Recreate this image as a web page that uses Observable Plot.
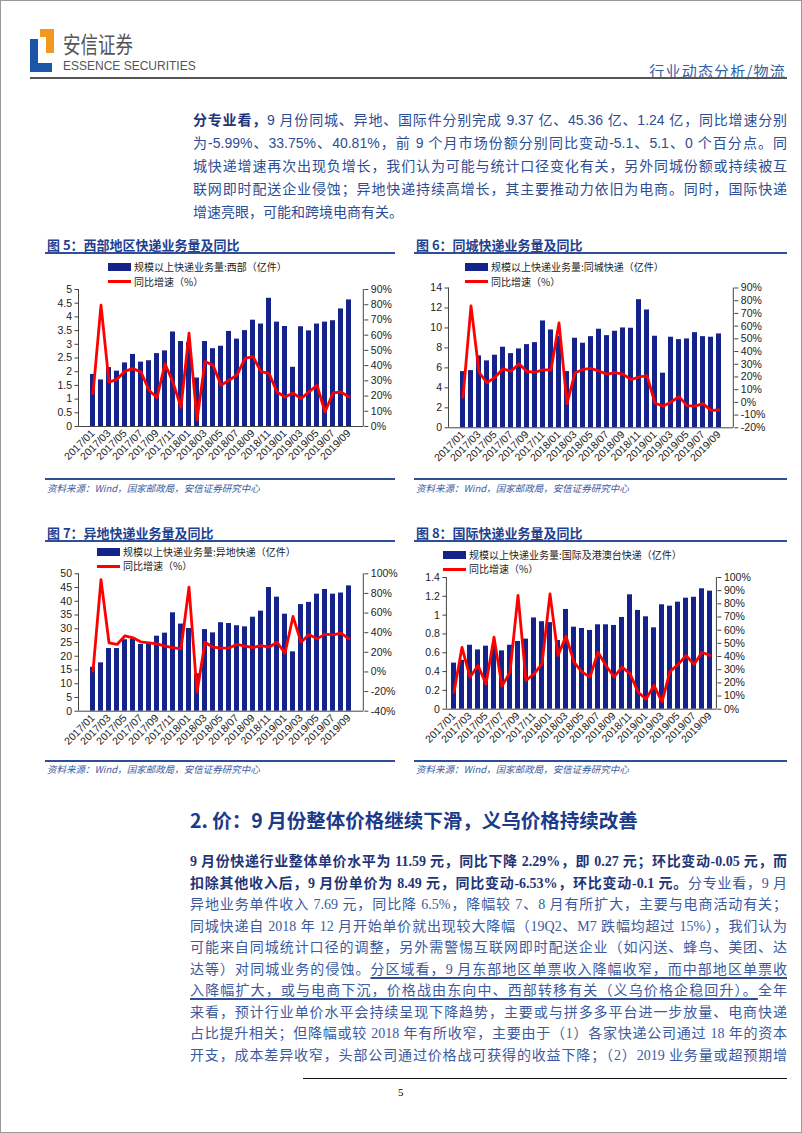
<!DOCTYPE html>
<html><head><meta charset="utf-8">
<script src="https://cdn.jsdelivr.net/npm/d3@7"></script>
<script src="https://cdn.jsdelivr.net/npm/@observablehq/plot@0.6"></script>
<style>
body{margin:0;background:#fff;}
#page{position:relative;width:802px;height:1133px;overflow:hidden;font-family:"Noto Sans CJK SC","Liberation Sans",sans-serif;box-shadow:inset 0 0 0 1px #9a9a9a;}
.a{position:absolute;white-space:nowrap;}
.p1{position:absolute;left:193px;width:594px;top:109px;font-size:14px;line-height:23px;color:#2d4d94;font-family:"Liberation Sans","Noto Sans CJK SC",sans-serif;}
.p1 div,.p2 div{text-align:justify;text-align-last:justify;white-space:nowrap;}
.p1 div.last,.p2 div.last{text-align-last:left;}
.p2{position:absolute;left:190px;width:597px;top:851px;font-size:14px;line-height:21.5px;color:#3b5aa0;font-family:"Liberation Serif","Noto Sans CJK SC",serif;}
b{color:#1f3577;}
.u{text-decoration:underline;text-decoration-color:#2d4f95;text-decoration-thickness:1.5px;text-underline-offset:3px;}
.ft{font-size:13px;font-weight:bold;color:#1f3f8f;}
.tl{height:2px;background:#2d4f95;}
.src{font-size:9.5px;font-style:italic;color:#3b5ba0;}
.sl{height:1.5px;background:#2d4f95;}
.lg{font-size:10px;line-height:normal;color:#222;}
.sw{background:#13238b;height:8px;width:23px;}
.rl{background:#ff0000;height:3px;width:23px;}
</style></head><body><div id="page">

<!-- header -->
<div class="a" style="left:30px;top:39px;width:8px;height:33px;background:#1b57a6"></div>
<div class="a" style="left:30px;top:63px;width:22px;height:9px;background:#1b57a6"></div>
<div class="a" style="left:40px;top:29px;width:14px;height:8px;background:#f39a1e"></div>
<div class="a" style="left:46px;top:29px;width:8px;height:24px;background:#f39a1e"></div>
<div class="a" style="left:63px;top:25.5px;font-size:23px;line-height:normal;color:#555;transform:scaleX(0.76);transform-origin:left top;">安信证券</div>
<div class="a" style="left:63px;top:59px;font-size:12px;line-height:normal;color:#555;font-family:'Liberation Sans',sans-serif;">ESSENCE SECURITIES</div>
<div class="a" style="right:16px;top:60px;font-size:15px;color:#3060a8;letter-spacing:1.2px;">行业动态分析/物流</div>
<div class="a" style="left:30px;top:77px;width:757px;height:2px;background:#555"></div>

<div class="p1">
<div><b>分专业看，</b>9 月份同城、异地、国际件分别完成 9.37 亿、45.36 亿、1.24 亿，同比增速分别</div>
<div>为-5.99%、33.75%、40.81%，前 9 个月市场份额分别同比变动-5.1、5.1、0 个百分点。同</div>
<div>城快递增速再次出现负增长，我们认为可能与统计口径变化有关，另外同城份额或持续被互</div>
<div>联网即时配送企业侵蚀；异地快递持续高增长，其主要推动力依旧为电商。同时，国际快递</div>
<div class="last">增速亮眼，可能和跨境电商有关。</div>
</div>

<!-- chart titles -->
<div class="a ft" style="left:47px;top:235px;">图 5：西部地区快递业务量及同比</div>
<div class="a tl" style="left:45px;top:252px;width:350px;"></div>
<div class="a ft" style="left:416px;top:235px;">图 6：同城快递业务量及同比</div>
<div class="a tl" style="left:414px;top:252px;width:373px;"></div>
<div class="a ft" style="left:47px;top:523px;">图 7：异地快递业务量及同比</div>
<div class="a tl" style="left:45px;top:540px;width:350px;"></div>
<div class="a ft" style="left:416px;top:523px;">图 8：国际快递业务量及同比</div>
<div class="a tl" style="left:414px;top:540px;width:373px;"></div>

<div id="c5" class="a" style="left:40px;top:258px;"></div>
<div id="c6" class="a" style="left:410px;top:258px;"></div>
<div id="c7" class="a" style="left:40px;top:545px;"></div>
<div id="c8" class="a" style="left:410px;top:545px;"></div>

<!-- legends -->
<div class="a sw" style="left:108px;top:263px;"></div>
<div class="a lg" style="left:134px;top:259.2px;">规模以上快递业务量:西部（亿件）</div>
<div class="a rl" style="left:108px;top:280px;"></div>
<div class="a lg" style="left:134px;top:273.8px;">同比增速（%）</div>

<div class="a sw" style="left:465px;top:263px;"></div>
<div class="a lg" style="left:491px;top:259.2px;">规模以上快递业务量:同城快递（亿件）</div>
<div class="a rl" style="left:465px;top:280px;"></div>
<div class="a lg" style="left:491px;top:273.8px;">同比增速（%）</div>

<div class="a sw" style="left:97px;top:547.5px;"></div>
<div class="a lg" style="left:123px;top:543.7px;">规模以上快递业务量:异地快递（亿件）</div>
<div class="a rl" style="left:97px;top:564.5px;"></div>
<div class="a lg" style="left:123px;top:558.3px;">同比增速（%）</div>

<div class="a sw" style="left:443px;top:550.5px;"></div>
<div class="a lg" style="left:469px;top:546.7px;">规模以上快递业务量:国际及港澳台快递（亿件）</div>
<div class="a rl" style="left:443px;top:567.5px;"></div>
<div class="a lg" style="left:469px;top:561.3px;">同比增速（%）</div>

<!-- sources -->
<div class="a sl" style="left:45px;top:478px;width:350px;"></div>
<div class="a src" style="left:47px;top:481px;">资料来源：Wind，国家邮政局，安信证券研究中心</div>
<div class="a sl" style="left:414px;top:478px;width:373px;"></div>
<div class="a src" style="left:416px;top:481px;">资料来源：Wind，国家邮政局，安信证券研究中心</div>
<div class="a sl" style="left:45px;top:760px;width:350px;"></div>
<div class="a src" style="left:47px;top:762px;">资料来源：Wind，国家邮政局，安信证券研究中心</div>
<div class="a sl" style="left:414px;top:760px;width:373px;"></div>
<div class="a src" style="left:416px;top:762px;">资料来源：Wind，国家邮政局，安信证券研究中心</div>

<div class="a" style="left:190px;top:805px;font-size:19.5px;font-weight:bold;color:#1b3a8a;">2. 价：9 月份整体价格继续下滑，义乌价格持续改善</div>

<div class="p2">
<div><b>9 月份快递行业整体单价水平为 11.59 元，同比下降 2.29%，即 0.27 元；环比变动-0.05 元，而</b></div>
<div><b>扣除其他收入后，9 月份单价为 8.49 元，同比变动-6.53%，环比变动-0.1 元。</b>分专业看，9 月</div>
<div>异地业务单件收入 7.69 元，同比降 6.5%，降幅较 7、8 月有所扩大，主要与电商活动有关；</div>
<div>同城快递自 2018 年 12 月开始单价就出现较大降幅（19Q2、M7 跌幅均超过 15%），我们认为</div>
<div>可能来自同城统计口径的调整，另外需警惕互联网即时配送企业（如闪送、蜂鸟、美团、达</div>
<div>达等）对同城业务的侵蚀。<span class="u">分区域看，9 月东部地区单票收入降幅收窄，而中部地区单票收</span></div>
<div><span class="u">入降幅扩大，或与电商下沉，价格战由东向中、西部转移有关（义乌价格企稳回升）。</span>全年</div>
<div>来看，预计行业单价水平会持续呈现下降趋势，主要或与拼多多平台进一步放量、电商快递</div>
<div>占比提升相关；但降幅或较 2018 年有所收窄，主要由于（1）各家快递公司通过 18 年的资本</div>
<div>开支，成本差异收窄，头部公司通过价格战可获得的收益下降；（2）2019 业务量或超预期增</div>
</div>

<div class="a" style="left:303px;top:1078px;width:484px;height:1px;background:#111"></div>
<div class="a" style="left:398px;top:1086px;font-size:11px;font-family:'Liberation Serif',serif;">5</div>
</div>

<script>
const months = ["2017/01","2017/02","2017/03","2017/04","2017/05","2017/06","2017/07","2017/08","2017/09","2017/10","2017/11","2017/12",
"2018/01","2018/02","2018/03","2018/04","2018/05","2018/06","2018/07","2018/08","2018/09","2018/10","2018/11","2018/12",
"2019/01","2019/02","2019/03","2019/04","2019/05","2019/06","2019/07","2019/08","2019/09"];

const westVol = [1.9,1.7,2.15,2.02,2.32,2.63,2.35,2.4,2.66,2.76,3.45,3.1,3.06,1.77,3.1,2.84,2.93,3.47,3.19,3.5,3.88,3.74,4.68,3.81,3.65,2.16,3.64,3.49,3.74,3.81,3.86,4.29,4.62];
const westYoY = [21.6,79.7,29.2,31,36.4,38,35.8,23.8,18.9,41.2,29,12.6,61.4,4.3,42.6,40.4,27.1,30.4,33.8,44.8,45.9,36,34.9,22.7,19.4,22,18.3,22.7,27.1,9.5,22,22.7,19.4];
const westLeftTicks = [0,0.5,1,1.5,2,2.5,3,3.5,4,4.5,5];
const westRightTicks = [0,10,20,30,40,50,60,70,80,90];

const cityVol = [5.63,5.73,7.2,6.7,7.27,8.07,7.43,7.9,8.33,8.53,10.7,9.8,9.15,5.63,8.97,8.47,9.13,9.87,9.23,9.67,10,9.97,12.83,11.8,9.17,5.47,9.07,8.83,8.9,9.53,9.13,9.07,9.4];
const cityYoY = [4.1,76,23.7,15.4,19.8,26.4,24.5,30.3,24.3,23.7,25.6,25.6,62.5,-1,23.3,25.9,26.7,24.6,22.2,23.5,22.2,17.9,20,20.9,-0.5,-3,0.3,4.5,-2.6,-2.9,-1,-6.3,-6];
const cityLeftTicks = [0,2,4,6,8,10,12,14];
const cityRightTicks = [-20,-10,0,10,20,30,40,50,60,70,80,90];

const diffVol = [16,17.6,22.8,22.8,26,26.1,24.3,24.5,27.3,28.4,35.8,31.7,30.1,13.6,29.7,28.5,32.2,31.9,31.1,30.7,34.2,36.4,45,41.5,35.3,21.6,38.8,39.6,42.6,44.3,42.6,43,45.6];
const diffYoY = [0.8,94,29.7,28,36.8,34.8,30.6,29.7,28.6,26.4,24.7,23.6,86.3,-20.7,30.3,25.2,24.2,24.5,28,26.2,24.9,26.9,25.2,30.3,19.1,56.5,30.3,38.1,33.7,38.5,37.8,39.5,33.7];
const diffLeftTicks = [0,5,10,15,20,25,30,35,40,45,50];
const diffRightTicks = [-40,-20,0,20,40,60,80,100];

const intlVol = [0.49,0.52,0.68,0.63,0.67,0.67,0.62,0.68,0.72,0.745,0.97,0.93,0.92,0.73,1.06,0.872,0.858,0.837,0.897,0.897,0.89,0.975,1.216,1.05,0.982,0.865,1.11,1.095,1.138,1.18,1.19,1.28,1.255];
const intlYoY = [12.9,47,24.3,33.2,19.2,54.7,17.5,28.1,86.4,21.8,26.8,34.4,87.6,40.8,55.5,35.8,28.2,24.4,43.3,33.2,24.4,32,27,13.1,7.6,18.1,5.5,28.7,33.8,40.8,34,43.3,40.8];
const intlLeftTicks = [0,0.2,0.4,0.6,0.8,1,1.2,1.4];
const intlRightTicks = [0,10,20,30,40,50,60,70,80,90,100];

const xLabels = months.filter((_, i) => i % 2 === 0);

function drawChart(id, vol, yoy, leftTicks, rightTicks, dims) {
  const lMax = leftTicks[leftTicks.length - 1];
  const rMin = rightTicks[0], rMax = rightTicks[rightTicks.length - 1];
  const toL = p => (p - rMin) / (rMax - rMin) * lMax;
  const fromL = v => v / lMax * (rMax - rMin) + rMin;
  const rows = months.map((m, i) => ({m, v: vol[i], p: toL(yoy[i])}));
  const {width, height, ml, mr, mt, mb} = dims;
  const svg = Plot.plot({
    width, height, marginLeft: ml, marginRight: mr, marginTop: mt, marginBottom: mb,
    style: {fontFamily: "'Liberation Sans', Arial, sans-serif", fontSize: "10.5px", color: "#222", background: "transparent", overflow: "visible"},
    x: {type: "band", domain: months, paddingInner: 0.36, paddingOuter: 0.18, label: null},
    y: {domain: [0, lMax], label: null},
    marks: [
      Plot.barY(rows, {x: "m", y: "v", fill: "#13238b"}),
      Plot.line(rows, {x: "m", y: "p", stroke: "#ff0000", strokeWidth: 2.8, strokeLinejoin: "round"}),
      Plot.ruleY([0], {stroke: "#444", strokeWidth: 1}),
      Plot.axisY(leftTicks, {anchor: "left", tickSize: 4, tickPadding: 3, label: null, stroke: "#444", tickFormat: d => String(+d.toFixed(2))}),
      Plot.axisY(rightTicks.map(toL), {anchor: "right", tickSize: 4, tickPadding: 3, label: null, stroke: "#444", tickFormat: d => Math.round(fromL(d)) + "%"}),
      Plot.axisX(xLabels, {anchor: "bottom", tickRotate: -45, tickSize: 0, tickPadding: 5, label: null, fontSize: 10.5})
    ]
  });
  const s = d3.select(svg);
  [ml, width - mr].forEach(x => s.append("line").attr("x1", x).attr("x2", x)
    .attr("y1", mt).attr("y2", height - mb).attr("stroke", "#444").attr("stroke-width", 1));
  document.getElementById(id).appendChild(svg);
}

drawChart("c5", westVol, westYoY, westLeftTicks, westRightTicks, {width: 356, height: 220, ml: 38.5, mr: 32.7, mt: 31, mb: 52});
drawChart("c6", cityVol, cityYoY, cityLeftTicks, cityRightTicks, {width: 356, height: 220, ml: 38.5, mr: 32.7, mt: 29.5, mb: 50.7});
drawChart("c7", diffVol, diffYoY, diffLeftTicks, diffRightTicks, {width: 356, height: 220, ml: 38.5, mr: 32.7, mt: 28.3, mb: 54.3});
drawChart("c8", intlVol, intlYoY, intlLeftTicks, intlRightTicks, {width: 340, height: 220, ml: 36.4, mr: 33.6, mt: 32, mb: 56.3});
</script>
</body></html>
